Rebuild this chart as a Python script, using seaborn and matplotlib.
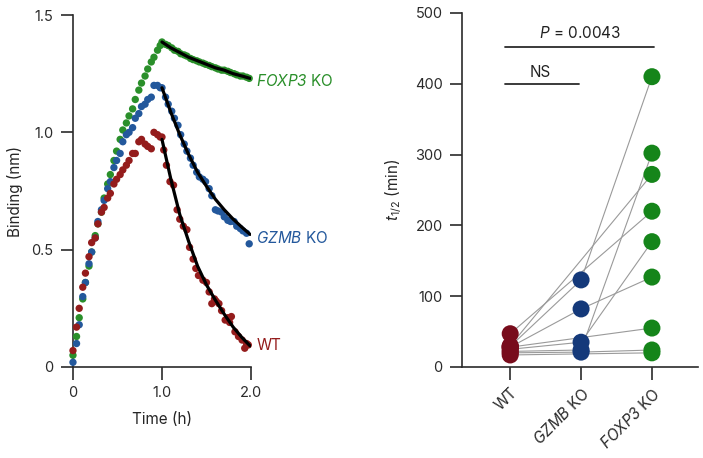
import matplotlib
matplotlib.use("Agg")
from matplotlib import pyplot as plt
import seaborn as sns
import pandas as pd
import numpy as np

# ---- binding kinetics (left panel) ----
t_assoc = [0.00, 0.04, 0.07, 0.11, 0.14, 0.18, 0.21, 0.25, 0.28, 0.32, 0.35, 0.39, 0.42, 0.46, 0.49,
           0.53, 0.56, 0.60, 0.63, 0.67, 0.70, 0.74, 0.77, 0.81, 0.84, 0.88, 0.91, 0.95, 0.98]
foxp3_assoc = [0.05, 0.13, 0.21, 0.29, 0.36, 0.43, 0.49, 0.56, 0.61, 0.66, 0.72, 0.78, 0.82, 0.88, 0.92,
               0.97, 1.01, 1.04, 1.07, 1.10, 1.14, 1.18, 1.21, 1.24, 1.27, 1.30, 1.32, 1.35, 1.37]
gzmb_assoc = [0.02, 0.10, 0.18, 0.30, 0.36, 0.44, 0.49, 0.55, 0.62, 0.67, 0.71, 0.76, 0.79, 0.85, 0.88,
              0.91, 0.96, 0.99, 1.00, 1.02, 1.06, 1.08, 1.11, 1.12, 1.14, 1.15, 1.20, 1.20, 1.19]
wt_assoc = [0.07, 0.17, 0.25, 0.34, 0.40, 0.47, 0.53, 0.55, 0.61, 0.66, 0.68, 0.72, 0.74, 0.78, 0.80,
            0.82, 0.84, 0.86, 0.88, 0.91, 0.91, 0.96, 0.97, 0.95, 0.94, 0.93, 1.00, 0.99, 0.98]

t_dis = [1.00, 1.04, 1.07, 1.11, 1.14, 1.18, 1.21, 1.25, 1.28, 1.32, 1.35, 1.39, 1.42, 1.46, 1.49,
         1.53, 1.56, 1.60, 1.63, 1.67, 1.70, 1.74, 1.77, 1.81, 1.84, 1.88, 1.91, 1.95, 1.98]
foxp3_dis = [1.385, 1.375, 1.37, 1.36, 1.35, 1.345, 1.335, 1.33, 1.325, 1.315, 1.31, 1.305, 1.30, 1.295, 1.29,
             1.285, 1.28, 1.275, 1.27, 1.265, 1.265, 1.26, 1.255, 1.25, 1.245, 1.24, 1.24, 1.235, 1.23]
gzmb_dis = [1.19, 1.15, 1.12, 1.09, 1.06, 1.03, 0.99, 0.95, 0.92, 0.89, 0.86, 0.83, 0.81, 0.80, 0.79,
            0.76, 0.73, 0.67, 0.665, 0.66, 0.64, 0.625, 0.62, 0.62, 0.60, 0.59, 0.58, 0.57, 0.525]
t_dis_wt = [1.00, 1.02, 1.05, 1.09, 1.13, 1.17, 1.20, 1.24, 1.28, 1.31, 1.35, 1.38, 1.41, 1.46, 1.50,
            1.53, 1.56, 1.59, 1.61, 1.64, 1.67, 1.71, 1.74, 1.76, 1.78, 1.82, 1.86, 1.90, 1.93, 1.95, 1.97]
wt_dis = [0.98, 0.925, 0.86, 0.79, 0.775, 0.67, 0.63, 0.60, 0.585, 0.51, 0.46, 0.42, 0.39, 0.37, 0.36,
          0.32, 0.27, 0.29, 0.28, 0.27, 0.24, 0.20, 0.21, 0.19, 0.215, 0.15, 0.13, 0.115, 0.08, 0.10, 0.094]

t_fit = [1.0, 1.1, 1.2, 1.3, 1.4, 1.5, 1.6, 1.7, 1.8, 1.9, 1.99]
foxp3_fit = [1.385, 1.36, 1.34, 1.32, 1.305, 1.29, 1.275, 1.265, 1.25, 1.24, 1.23]
gzmb_fit = [1.19, 1.085, 0.99, 0.905, 0.83, 0.77, 0.715, 0.67, 0.63, 0.595, 0.565]
wt_fit = [0.97, 0.80, 0.65, 0.535, 0.43, 0.35, 0.285, 0.225, 0.17, 0.125, 0.09]

# ---- half-lives (right panel), one entry per experiment ----
conditions = ['WT', 'GZMB KO', 'FOXP3 KO']
t_half_wt = [29, 30, 47, 25, 28, 22, 28, 20, 17]
t_half_gzmb = [123, np.nan, np.nan, 35, 82, 24, np.nan, 21, np.nan]
t_half_foxp3 = [410, 272, 220, 177, 127, 302, 55, 24, 20]

green_l, blue_l, red_l = '#2a8f2a', '#23589c', '#941c1c'
green_r, blue_r, red_r = '#15851a', '#14397a', '#780c1c'
ink = '#2b2b2b'

sns.set_style('ticks')
plt.rcParams['font.family'] = ['Inter', 'DejaVu Sans']
plt.rcParams['mathtext.fontset'] = 'custom'
plt.rcParams['mathtext.rm'] = 'Inter'
plt.rcParams['mathtext.it'] = 'Inter:italic'
# \mathsf used for gene names so that digits are slanted too
plt.rcParams['mathtext.sf'] = 'Inter:italic'
plt.rcParams['axes.edgecolor'] = ink
plt.rcParams['xtick.color'] = ink
plt.rcParams['ytick.color'] = ink
plt.rcParams['text.color'] = '#222222'

fig = plt.figure(figsize=(7.03, 4.58), dpi=100)
ax1 = fig.add_axes([0.1038, 0.1987, 0.2532, 0.7685])
ax2 = fig.add_axes([0.6572, 0.1987, 0.3357, 0.7730])

kin = pd.concat([
    pd.DataFrame({'t': t_assoc + t_dis, 'b': foxp3_assoc + foxp3_dis, 'cond': 'FOXP3 KO'}),
    pd.DataFrame({'t': t_assoc + t_dis, 'b': gzmb_assoc + gzmb_dis, 'cond': 'GZMB KO'}),
    pd.DataFrame({'t': t_assoc + t_dis_wt, 'b': wt_assoc + wt_dis, 'cond': 'WT'}),
])
sns.scatterplot(data=kin, x='t', y='b', hue='cond', ax=ax1, s=28, linewidth=0,
                palette={'FOXP3 KO': green_l, 'GZMB KO': blue_l, 'WT': red_l},
                legend=False, clip_on=False, zorder=3)
for fit in (foxp3_fit, gzmb_fit, wt_fit):
    sns.lineplot(x=t_fit, y=fit, ax=ax1, color='black', linewidth=2.3, zorder=4)

ax1.set_xlim(0, 2.0)
ax1.set_ylim(0, 1.5)
ax1.set_xticks([0, 1.0, 2.0])
ax1.set_xticklabels(['0', '1.0', '2.0'])
ax1.set_yticks([0, 0.5, 1.0, 1.5])
ax1.set_yticklabels(['0', '0.5', '1.0', '1.5'])
ax1.set_xlabel('Time (h)', fontsize=11, labelpad=8)
ax1.set_ylabel('Binding (nm)', fontsize=11, labelpad=6)
ax1.text(2.06, 1.22, r'$\mathsf{FOXP3}$ KO', color=green_l, fontsize=11, va='center')
ax1.text(2.06, 0.55, r'$\mathsf{GZMB}$ KO', color=blue_l, fontsize=11, va='center')
ax1.text(2.06, 0.09, 'WT', color=red_l, fontsize=11, va='center')

# right panel: paired half-lives
pos = {c: i for i, c in enumerate(conditions)}
half = pd.DataFrame({'exp': range(len(t_half_wt)), 'WT': t_half_wt,
                     'GZMB KO': t_half_gzmb, 'FOXP3 KO': t_half_foxp3})
half = half.melt(id_vars='exp', var_name='cond', value_name='t_half').dropna()
half['x'] = half['cond'].map(pos)
sns.lineplot(data=half, x='x', y='t_half', units='exp', estimator=None, ax=ax2,
             color='#9a9a9a', linewidth=0.8, sort=True, zorder=1)
sns.scatterplot(data=half, x='x', y='t_half', hue='cond', ax=ax2, s=150, linewidth=0,
                palette={'WT': red_r, 'GZMB KO': blue_r, 'FOXP3 KO': green_r},
                legend=False, clip_on=False, zorder=3)

ax2.set_xlim(-0.68, 2.65)
ax2.set_ylim(0, 500)
ax2.set_xticks([0, 1, 2])
ax2.set_xticklabels(['WT', r'$\mathsf{GZMB}$ KO', r'$\mathsf{FOXP3}$ KO'], rotation=45,
                    ha='right', rotation_mode='anchor', fontsize=11)
ax2.set_yticks([0, 100, 200, 300, 400, 500])
ax2.set_xlabel('')
ax2.set_ylabel(r'$t_{1/2}$ (min)', fontsize=11, labelpad=8)

ax2.plot([-0.07, 2.03], [452, 452], color=ink, linewidth=1.3)
ax2.text(0.98, 460, r'$P$ = 0.0043', ha='center', va='bottom', fontsize=11)
ax2.plot([-0.07, 0.97], [400, 400], color=ink, linewidth=1.3)
ax2.text(0.43, 405, 'NS', ha='center', va='bottom', fontsize=11)

for ax in (ax1, ax2):
    sns.despine(ax=ax)
    ax.spines['left'].set_linewidth(1.2)
    ax.spines['bottom'].set_linewidth(1.2)
    ax.tick_params(length=9, width=1.2, labelsize=10.5, pad=5)
ax2.tick_params(axis='x', labelsize=11, pad=4)

fig.savefig('out.png', dpi=100)
